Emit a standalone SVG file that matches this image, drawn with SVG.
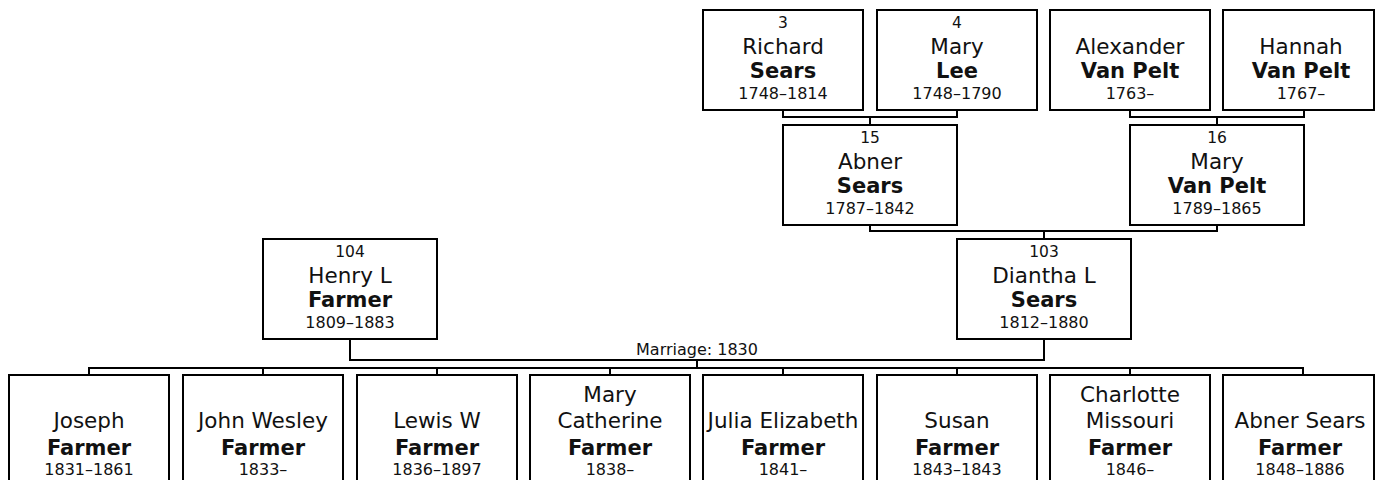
<svg xmlns="http://www.w3.org/2000/svg" width="1375" height="480" viewBox="0 0 1375 480">
<style>
.box{fill:#fff;stroke:#000;stroke-width:2}
.ln{fill:none;stroke:#000;stroke-width:2}
text{font-family:"DejaVu Sans",Verdana,sans-serif;fill:#111;text-anchor:middle}
.n{font-size:15.5px}
.g{font-size:21.5px}
.s{font-size:21px;font-weight:bold}
.d{font-size:16px}
.m{font-size:16px}
</style>
<rect width="1375" height="480" fill="#fff"/>
<g id="connectors">
<path class="ln" d="M783 110V117H957V110M870 117V125"/>
<path class="ln" d="M1130 110V117H1304V110M1217 117V125"/>
<path class="ln" d="M870 225V231H1217V225M1044 231V239"/>
<path class="ln" d="M350 339V360H1044V339"/>
<path class="ln" d="M697 360V368M89 375V368H1303V375M263 368V375M437 368V375M610 368V375M783 368V375M957 368V375M1130 368V375"/>
<text class="m" x="697" y="355">Marriage: 1830</text>
</g>
<g id="p3"><rect class="box" x="703" y="10" width="160" height="100"/>
<text class="n" x="783" y="27.5">3</text><text class="g" x="783" y="53.5">Richard</text><text class="s" x="783" y="77.5">Sears</text><text class="d" x="783" y="98.5">1748–1814</text></g>
<g id="p4"><rect class="box" x="877" y="10" width="160" height="100"/>
<text class="n" x="957" y="27.5">4</text><text class="g" x="957" y="53.5">Mary</text><text class="s" x="957" y="77.5">Lee</text><text class="d" x="957" y="98.5">1748–1790</text></g>
<g id="pAlexander"><rect class="box" x="1050" y="10" width="160" height="100"/>
<text class="g" x="1130" y="53.5">Alexander</text><text class="s" x="1130" y="77.5">Van Pelt</text><text class="d" x="1130" y="98.5">1763–</text></g>
<g id="pHannah"><rect class="box" x="1223" y="10" width="151" height="100"/>
<text class="g" x="1301" y="53.5">Hannah</text><text class="s" x="1301" y="77.5">Van Pelt</text><text class="d" x="1301" y="98.5">1767–</text></g>
<g id="p15"><rect class="box" x="783" y="125" width="174" height="100"/>
<text class="n" x="870" y="142.5">15</text><text class="g" x="870" y="168.5">Abner</text><text class="s" x="870" y="192.5">Sears</text><text class="d" x="870" y="213.5">1787–1842</text></g>
<g id="p16"><rect class="box" x="1130" y="125" width="174" height="100"/>
<text class="n" x="1217" y="142.5">16</text><text class="g" x="1217" y="168.5">Mary</text><text class="s" x="1217" y="192.5">Van Pelt</text><text class="d" x="1217" y="213.5">1789–1865</text></g>
<g id="p104"><rect class="box" x="263" y="239" width="174" height="100"/>
<text class="n" x="350" y="256.5">104</text><text class="g" x="350" y="282.5">Henry L</text><text class="s" x="350" y="306.5">Farmer</text><text class="d" x="350" y="327.5">1809–1883</text></g>
<g id="p103"><rect class="box" x="957" y="239" width="174" height="100"/>
<text class="n" x="1044" y="256.5">103</text><text class="g" x="1044" y="282.5">Diantha L</text><text class="s" x="1044" y="306.5">Sears</text><text class="d" x="1044" y="327.5">1812–1880</text></g>
<g id="c1"><rect class="box" x="9" y="375" width="160" height="120"/>
<text class="g" x="89" y="428">Joseph</text><text class="s" x="89" y="455">Farmer</text><text class="d" x="89" y="475">1831–1861</text></g>
<g id="c2"><rect class="box" x="183" y="375" width="160" height="120"/>
<text class="g" x="263" y="428">John Wesley</text><text class="s" x="263" y="455">Farmer</text><text class="d" x="263" y="475">1833–</text></g>
<g id="c3"><rect class="box" x="357" y="375" width="160" height="120"/>
<text class="g" x="437" y="428">Lewis W</text><text class="s" x="437" y="455">Farmer</text><text class="d" x="437" y="475">1836–1897</text></g>
<g id="c4"><rect class="box" x="530" y="375" width="160" height="120"/>
<text class="g" x="610" y="402">Mary</text><text class="g" x="610" y="428">Catherine</text><text class="s" x="610" y="455">Farmer</text><text class="d" x="610" y="475">1838–</text></g>
<g id="c5"><rect class="box" x="703" y="375" width="160" height="120"/>
<text class="g" x="783" y="428">Julia Elizabeth</text><text class="s" x="783" y="455">Farmer</text><text class="d" x="783" y="475">1841–</text></g>
<g id="c6"><rect class="box" x="877" y="375" width="160" height="120"/>
<text class="g" x="957" y="428">Susan</text><text class="s" x="957" y="455">Farmer</text><text class="d" x="957" y="475">1843–1843</text></g>
<g id="c7"><rect class="box" x="1050" y="375" width="160" height="120"/>
<text class="g" x="1130" y="402">Charlotte</text><text class="g" x="1130" y="428">Missouri</text><text class="s" x="1130" y="455">Farmer</text><text class="d" x="1130" y="475">1846–</text></g>
<g id="c8"><rect class="box" x="1223" y="375" width="151" height="120"/>
<text class="g" x="1300" y="428">Abner Sears</text><text class="s" x="1300" y="455">Farmer</text><text class="d" x="1300" y="475">1848–1886</text></g>
</svg>
